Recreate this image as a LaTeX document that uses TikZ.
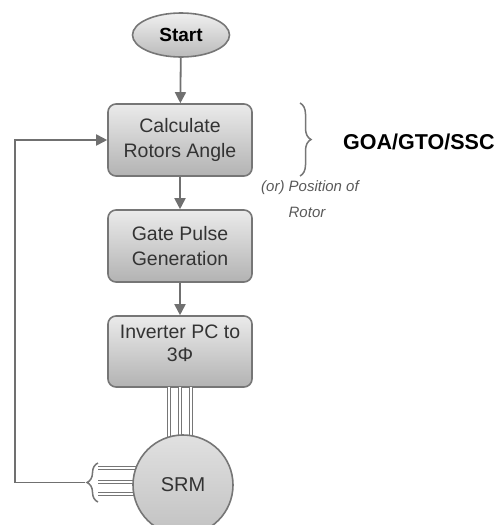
\documentclass[tikz,border=0pt]{standalone}
\usepackage{fontspec}
\setmainfont{Liberation Sans}
\usetikzlibrary{arrows.meta,calc,decorations.pathreplacing,shapes.geometric}
\definecolor{edgegray}{HTML}{767676}
\definecolor{linegray}{HTML}{707070}
\definecolor{txtgray}{HTML}{333333}
\tikzset{
  stepbox/.style={draw=edgegray, line width=1.6pt, rounded corners=8pt,
    top color=black!8, bottom color=black!30, minimum width=144pt,
    minimum height=72pt, inner sep=0pt, align=center, text=txtgray,
    font=\fontsize{19.5}{25}\selectfont},
  flow/.style={draw=linegray, line width=1.8pt,
    -{Triangle[length=11pt,width=11pt]}},
  pipe/.style={draw=edgegray, line width=0.9pt, double=white, double distance=2.2pt},
  bracegray/.style={draw=edgegray, line width=1.5pt, decorate,
    decoration={brace, amplitude=11pt}},
}
\begin{document}
\begin{tikzpicture}[x=1pt,y=-1pt]
\useasboundingbox (0,0) rectangle (501,525);
\clip (0,0) rectangle (501,525);

% start terminal
\node (start) [ellipse, draw=edgegray, line width=1.6pt, top color=black!6,
  bottom color=black!27, minimum width=97pt, minimum height=44pt, inner sep=0pt,
  font=\bfseries\fontsize{19}{22}\selectfont] at (181,35) {Start};

% processing steps
\node (calc) [stepbox] at (180,140) {Calculate\\Rotors Angle};
\node (gate) [stepbox] at (180,246) {Gate Pulse\\Generation};
\node (inv)  [stepbox, minimum height=71pt] at (180,351.5) {};
\node (invtxt) [align=center, text=txtgray, font=\fontsize{19.5}{23}\selectfont,
  inner sep=0pt] at (180,343) {Inverter PC to\\3Φ};

% three-phase leads to the motor and back to the sensor bracket
\coordinate (ph1) at (169,387);
\coordinate (ph2) at (180,387);
\coordinate (ph3) at (191,387);
\draw[pipe] (ph1) -- ++(0,60);
\draw[pipe] (ph2) -- ++(0,60);
\draw[pipe] (ph3) -- ++(0,60);
\coordinate (lt1) at (98,468);
\coordinate (lt2) at (98,482);
\coordinate (lt3) at (98,494);
\draw[pipe] (lt1) -- ++(50,0);
\draw[pipe] (lt2) -- ++(50,0);
\draw[pipe] (lt3) -- ++(50,0);

% motor
\node (srm) [circle, draw=edgegray, line width=1.6pt, top color=black!12,
  bottom color=black!24, minimum size=100pt, inner sep=0pt, text=txtgray,
  font=\fontsize{20}{24}\selectfont] at (183,485) {SRM};

% feedback bracket
\draw[bracegray] (98,502) -- (98,463);
\coordinate (fb) at (85,482.5);
\coordinate (fbcorner) at (15,482.5);

% flow arrows
\draw[flow] (start) -- (calc);
\draw[flow] (calc) -- (gate);
\draw[flow] (gate) -- (inv);
\draw[flow] (fb) -- (fbcorner) |- (calc.west);

% annotation
\draw[bracegray] (300,103) -- (300,176);
\node (algo) [font=\bfseries\fontsize{21.5}{24}\selectfont, anchor=west,
  inner sep=0pt] at (343,142) {GOA/GTO/SSC};
\node (pos) [font=\itshape\fontsize{15}{18}\selectfont, text=black!65,
  inner sep=0pt] at (310,188) {(or) Position of};
\node (rotor) [font=\itshape\fontsize{15}{18}\selectfont, text=black!65,
  inner sep=0pt] at (307,212) {Rotor};
\end{tikzpicture}
\end{document}
